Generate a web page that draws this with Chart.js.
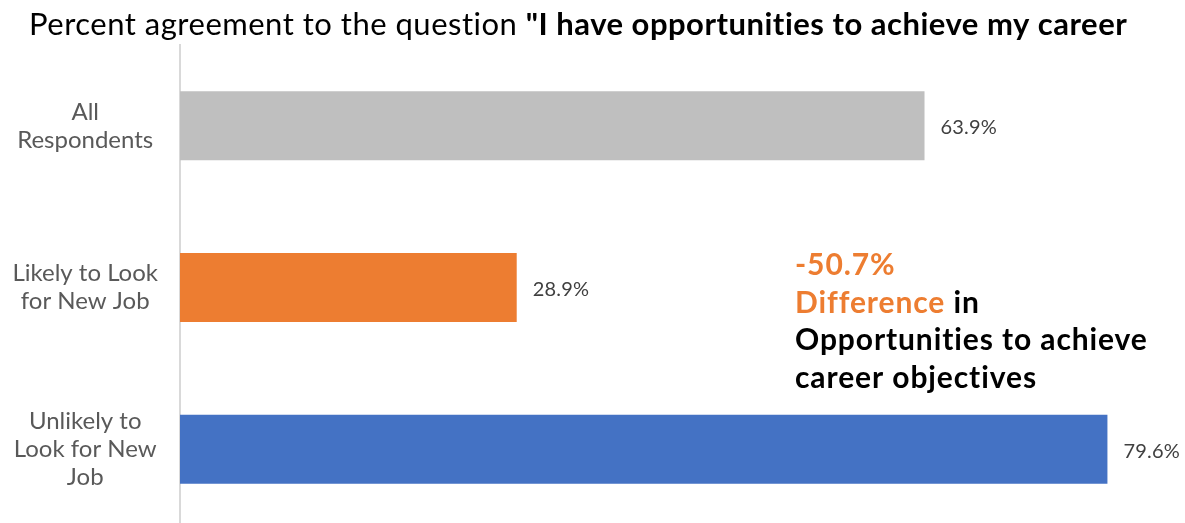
<!doctype html>
<html>
    <head>
        <meta charset="utf-8">
        <title>Career opportunities</title>
        <!-- chartjs library -->
        <script src="https://cdn.jsdelivr.net/npm/chart.js@4.4.1/dist/chart.umd.min.js"></script>
        <style>
            html, body { margin:0; padding:0; background:#fff; overflow:hidden; }
            .chartContainer { width:1185px; height:530px; position:relative; }
        </style>
    </head>
    <body>
        <div class="chartContainer">
            <canvas id="barChart"></canvas>
        </div>

        <script type="text/javascript">
        // data
        var categories = [['All', 'Respondents'], ['Likely to Look', 'for New Job'], ['Unlikely to', 'Look for New', 'Job']];
        var values = [63.9, 28.9, 79.6];
        var barColors = ['#BFBFBF', '#ED7D31', '#4472C4'];
        var titleNormal = 'Percent agreement to the question ';
        var titleBold = '"I have opportunities to achieve my career';
        var noteLines = [
            [['-50.7%', '#ED7D31']],
            [['Difference', '#ED7D31'], [' in', '#000000']],
            [['Opportunities to achieve', '#000000']],
            [['career objectives', '#000000']]
        ];

        // title + annotation + value labels
        var textPlugin = {
            id: 'textPlugin',
            afterDatasetsDraw: function(chart) {
                var ctx = chart.ctx;
                ctx.save();
                ctx.textBaseline = 'alphabetic';
                ctx.textAlign = 'left';

                // title (letter spacing also stops the "ti" ligature)
                ctx.letterSpacing = '0.5px';
                ctx.fillStyle = '#000000';
                ctx.font = '31px Lato';
                ctx.fillText(titleNormal, 29, 35);
                var w = ctx.measureText(titleNormal).width;
                ctx.font = 'bold 31px Lato';
                ctx.fillText(titleBold, 29 + w, 35);

                // value labels
                ctx.letterSpacing = '0.2px';
                ctx.font = '20px Lato';
                ctx.fillStyle = '#404040';
                ctx.textBaseline = 'middle';
                var meta = chart.getDatasetMeta(0);
                meta.data.forEach(function(bar, i) {
                    ctx.fillText(values[i].toFixed(1) + '%', bar.x + 16, bar.y + 2);
                });

                // annotation
                ctx.letterSpacing = '0.9px';
                ctx.textBaseline = 'alphabetic';
                ctx.font = 'bold 30px Lato';
                noteLines.forEach(function(line, i) {
                    var x = 795;
                    line.forEach(function(part) {
                        ctx.fillStyle = part[1];
                        ctx.fillText(part[0], x, 275 + i * 37.5);
                        x += ctx.measureText(part[0]).width;
                    });
                });
                ctx.restore();
            }
        };

        var barChart = new Chart(document.getElementById('barChart'), {
            type: 'bar',
            data: {
                labels: categories,
                datasets: [{
                    data: values,
                    backgroundColor: barColors,
                    barPercentage: 0.427,
                    categoryPercentage: 1.0
                }]
            },
            options: {
                indexAxis: 'y',
                responsive: true,
                maintainAspectRatio: false,
                animation: false,
                layout: { padding: { top: 45, right: 3, bottom: 0, left: 0 } },
                scales: {
                    x: {
                        display: false,
                        min: 0,
                        max: 86
                    },
                    y: {
                        grid: { display: false, drawTicks: false },
                        border: { display: true, color: '#D9D9D9', width: 2 },
                        afterFit: function(scale) {
                            scale.width = 180;
                            scale.paddingTop = 0;
                            scale.paddingBottom = 0;
                        },
                        ticks: {
                            crossAlign: 'center',
                            padding: 22,
                            color: '#595959',
                            font: { family: 'Lato', size: 24, lineHeight: '28px' }
                        }
                    }
                },
                plugins: {
                    legend: { display: false },
                    tooltip: { enabled: false }
                }
            },
            plugins: [textPlugin]
        });
        </script>
    </body>
</html>
